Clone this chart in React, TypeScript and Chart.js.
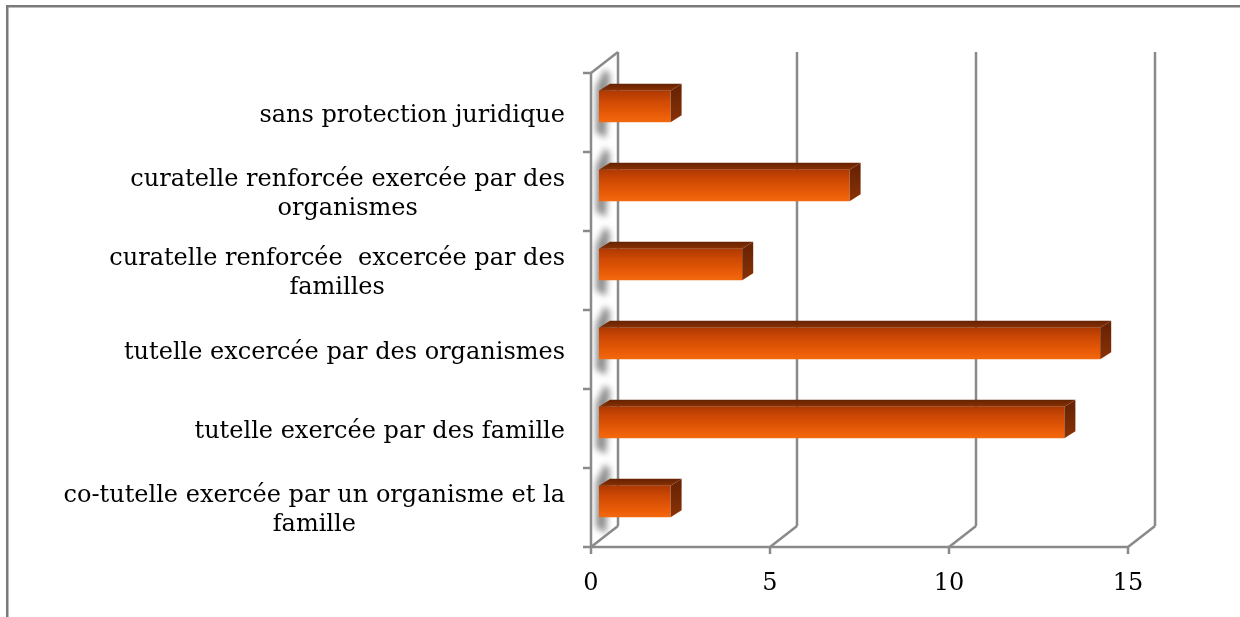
import React, { useEffect, useRef } from "react";
import { Chart, registerables } from "chart.js";

Chart.register(...registerables);

const categories: string[][] = [
  ["sans protection juridique"],
  ["curatelle renforcée exercée par des", "organismes"],
  ["curatelle renforcée  excercée par des", "familles"],
  ["tutelle excercée par des organismes"],
  ["tutelle exercée par des famille"],
  ["co-tutelle exercée par un organisme et la", "famille"],
];
const values: number[] = [2, 7, 4, 14, 13, 2];
const xTicks: number[] = [0, 5, 10, 15];

const FONT = '24px "DejaVu Serif"';
const LINE_COLOR = "#8a8a8a";
// depth offsets relative to the bar plane
const FRONT = { dx: -8, dy: 6 };
const BACK = { dx: 19, dy: -15 };
const BAR_DEPTH = { dx: 11, dy: -7 };

const scene3d = {
  id: "scene3d",
  beforeDraw(chart: any) {
    const ctx = chart.ctx;
    ctx.save();
    ctx.fillStyle = "#ffffff";
    ctx.fillRect(0, 0, chart.width, chart.height);
    ctx.fillStyle = "#7a7a7a";
    ctx.fillRect(6, 5, chart.width - 6, 2.5);
    ctx.fillRect(6, 5, 2.5, chart.height - 5);
    ctx.restore();
  },
  beforeDatasetsDraw(chart: any) {
    const ctx = chart.ctx;
    const xs = chart.scales.x;
    const ys = chart.scales.y;
    const ca = chart.chartArea;
    const top = ca.top;
    const bottom = ca.bottom;
    const x0 = xs.getPixelForValue(0);
    const fx = (v: number) => xs.getPixelForValue(v) + FRONT.dx;
    const bx = (v: number) => xs.getPixelForValue(v) + BACK.dx;

    ctx.save();
    // left wall shading (soft shadows of the bars)
    ctx.beginPath();
    ctx.moveTo(fx(0), top + FRONT.dy);
    ctx.lineTo(bx(0), top + BACK.dy);
    ctx.lineTo(bx(0), bottom + BACK.dy);
    ctx.lineTo(fx(0), bottom + FRONT.dy);
    ctx.closePath();
    ctx.clip();
    ctx.filter = "blur(3px)";
    ctx.fillStyle = "rgba(95,95,95,0.7)";
    const meta = chart.getDatasetMeta(0);
    meta.data.forEach((bar: any) => {
      const p = bar.getProps(["y", "height"], true);
      const h = p.height;
      ctx.beginPath();
      ctx.moveTo(x0 - 3, p.y - h / 2 - 4);
      ctx.lineTo(x0 + 6, p.y - h / 2 - 22);
      ctx.lineTo(x0 + 11, p.y - h / 2 - 16);
      ctx.lineTo(x0 + 7, p.y + h / 2 + 16);
      ctx.lineTo(x0 - 3, p.y + h / 2 + 10);
      ctx.closePath();
      ctx.fill();
    });
    ctx.restore();

    ctx.save();
    ctx.strokeStyle = LINE_COLOR;
    ctx.lineWidth = 2.5;
    ctx.lineCap = "butt";
    const line = (a: number, b: number, c: number, d: number) => {
      ctx.beginPath();
      ctx.moveTo(a, b);
      ctx.lineTo(c, d);
      ctx.stroke();
    };
    // left wall edges
    line(fx(0), top + FRONT.dy, fx(0), bottom + FRONT.dy);
    line(bx(0), top + BACK.dy, bx(0), bottom + BACK.dy);
    line(fx(0), top + FRONT.dy, bx(0), top + BACK.dy);
    // floor front edge
    line(fx(0) - 1, bottom + FRONT.dy, fx(15) + 1, bottom + FRONT.dy);
    xTicks.forEach((v) => {
      line(fx(v), bottom + FRONT.dy, bx(v), bottom + BACK.dy);
      line(fx(v), bottom + FRONT.dy, fx(v), bottom + FRONT.dy + 7);
      if (v > 0) line(bx(v), bottom + BACK.dy, bx(v), top + BACK.dy);
    });
    // category tick marks on the y axis
    const n = categories.length;
    const step = (bottom - top) / n;
    for (let k = 0; k <= n; k++) {
      const yy = top + k * step + FRONT.dy;
      line(fx(0) - 8, yy, fx(0), yy);
    }

    // text
    ctx.fillStyle = "#000000";
    ctx.font = FONT;
    ctx.textBaseline = "middle";
    ctx.textAlign = "center";
    xTicks.forEach((v) => {
      ctx.fillText(String(v), fx(v), bottom + 43);
    });
    const rightEdge = 565;
    const lh = 28.5;
    categories.forEach((lines, i) => {
      const yc = ys.getPixelForValue(i) + 9;
      const w = Math.max(...lines.map((s) => ctx.measureText(s).width));
      const cx = rightEdge - w / 2;
      lines.forEach((s, j) => {
        const yy = yc + (j - (lines.length - 1) / 2) * lh;
        ctx.fillText(s, cx, yy);
      });
    });
    ctx.restore();
  },
  afterDatasetsDraw(chart: any) {
    const ctx = chart.ctx;
    const meta = chart.getDatasetMeta(0);
    ctx.save();
    meta.data.forEach((bar: any) => {
      const p = bar.getProps(["x", "y", "base", "height"], true);
      const t = p.y - p.height / 2;
      const b = p.y + p.height / 2;
      const d = BAR_DEPTH;
      // top face
      const gt = ctx.createLinearGradient(0, t + d.dy, 0, t);
      gt.addColorStop(0, "#642202");
      gt.addColorStop(1, "#8a3002");
      ctx.fillStyle = gt;
      ctx.beginPath();
      ctx.moveTo(p.base, t);
      ctx.lineTo(p.x, t);
      ctx.lineTo(p.x + d.dx, t + d.dy);
      ctx.lineTo(p.base + d.dx, t + d.dy);
      ctx.closePath();
      ctx.fill();
      // side face
      const gs = ctx.createLinearGradient(0, t, 0, b);
      gs.addColorStop(0, "#6a2404");
      gs.addColorStop(1, "#8a3204");
      ctx.fillStyle = gs;
      ctx.beginPath();
      ctx.moveTo(p.x, t);
      ctx.lineTo(p.x + d.dx, t + d.dy);
      ctx.lineTo(p.x + d.dx, b + d.dy);
      ctx.lineTo(p.x, b);
      ctx.closePath();
      ctx.fill();
    });
    ctx.restore();
  },
};

export default function App() {
  const ref = useRef<HTMLCanvasElement | null>(null);
  useEffect(() => {
    document.body.style.margin = "0";
    if (!ref.current) return;
    const chart = new Chart(ref.current, {
      type: "bar",
      data: {
        labels: categories,
        datasets: [
          {
            data: values,
            borderWidth: 0,
            barPercentage: 0.5,
            categoryPercentage: 0.8,
            backgroundColor: (c: any) => {
              const ch = c.chart;
              if (!ch.chartArea || !ch.scales.y) return "#e05a0a";
              const yc = ch.scales.y.getPixelForValue(c.dataIndex);
              const g = ch.ctx.createLinearGradient(0, yc - 16, 0, yc + 16);
              g.addColorStop(0, "#ae3802");
              g.addColorStop(0.35, "#d04a04");
              g.addColorStop(0.8, "#ec5e08");
              g.addColorStop(1, "#f26a10");
              return g;
            },
          },
        ],
      },
      options: {
        indexAxis: "y",
        responsive: false,
        animation: false,
        layout: { padding: { left: 599, right: 104, top: 67, bottom: 76 } },
        plugins: { legend: { display: false }, tooltip: { enabled: false } },
        scales: {
          x: { min: 0, max: 15, display: false },
          y: { display: false },
        },
      },
      plugins: [scene3d],
    } as any);
    return () => chart.destroy();
  }, []);
  return (
    <div style={{ width: 1240, height: 617 }}>
      <canvas ref={ref} width={1240} height={617} style={{ display: "block" }} />
    </div>
  );
}
